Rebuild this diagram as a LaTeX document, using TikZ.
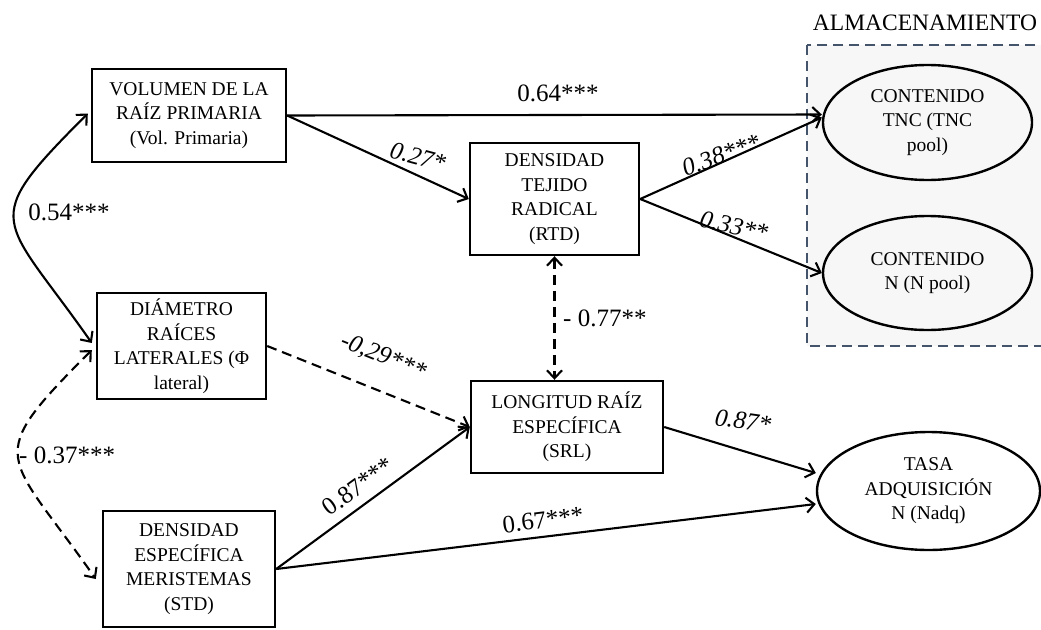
\documentclass[tikz,border=0pt]{standalone}
\usepackage{fontspec}
\setmainfont{Liberation Serif}
\usetikzlibrary{arrows.meta,shapes.geometric}
\definecolor{boxblue}{RGB}{68,84,106}
\definecolor{boxfill}{RGB}{247,247,247}
\begin{document}
\begin{tikzpicture}[x=1pt,y=-1pt,
  box/.style={draw, line width=2.4pt, align=center, inner sep=0pt, font=\fontsize{19.5}{24.5}\selectfont},
  oval/.style={draw, ellipse, line width=2.4pt, align=center, inner sep=0pt, font=\fontsize{19.5}{24.5}\selectfont},
  arr/.style={line width=2.1pt, -{Straight Barb[length=8pt,width=15pt,line width=2.1pt]}},
  darr/.style={line width=2.1pt, {Straight Barb[length=8pt,width=15pt,line width=2.1pt]}-{Straight Barb[length=8pt,width=15pt,line width=2.1pt]}},
  dsh/.style={dash pattern=on 10pt off 6pt},
  lbl/.style={inner sep=0pt, font=\fontsize{25}{30}\selectfont},
  ilbl/.style={inner sep=0pt, font=\fontsize{25}{30}\selectfont\itshape}
]
\useasboundingbox (0,0) rectangle (1041,629);
\fill[white] (0,0) rectangle (1041,629);

% storage region
\draw[boxblue, fill=boxfill, line width=2pt, dash pattern=on 10pt off 6pt] (807,45) rectangle (1052,346);
\node[inner sep=0pt, font=\fontsize{23.5}{28}\selectfont] (alm) at (925,22.5) {ALMACENAMIENTO};

% boxes
\node[box, minimum width=194pt, minimum height=93pt] (VOL) at (189,115.5)
  {VOLUMEN DE LA\\RAÍZ PRIMARIA\\(Vol. Primaria)};
\node[box, minimum width=169pt, minimum height=106pt] (DIAM) at (181.5,346)
  {DIÁMETRO\\RAÍCES\\LATERALES (Φ\\lateral)};
\node[box, minimum width=172pt, minimum height=116pt] (STD) at (189,569)
  {DENSIDAD\\ESPECÍFICA\\MERISTEMAS\\(STD)};
\node[box, minimum width=169pt, minimum height=112pt] (RTD) at (554.5,199)
  {DENSIDAD\\TEJIDO\\RADICAL\\(RTD)};
\node[box, minimum width=192pt, minimum height=92pt] (SRL) at (567,427)
  {LONGITUD RAÍZ\\ESPECÍFICA\\(SRL)};

% ellipses
\node[oval, minimum width=209pt, minimum height=115pt] (TNC) at (927.5,122.5)
  {CONTENIDO\\TNC (TNC\\pool)};
\node[oval, minimum width=209pt, minimum height=114pt] (NP) at (927.5,273)
  {CONTENIDO\\N (N pool)};
\node[oval, minimum width=223pt, minimum height=118pt] (TASA) at (928.5,491)
  {TASA\\ADQUISICIÓN\\N (Nadq)};

% connectors
\draw[arr] (VOL.east) -- ([yshift=8pt]TNC.west);
\draw[arr] (VOL.east) -- (RTD.west);
\draw[arr] (RTD.east) -- ([yshift=5pt]TNC.west);
\draw[arr] (RTD.east) -- (NP.west);
\draw[darr, dsh] (RTD.south) -- (RTD.south |- SRL.north);
\draw[arr, dsh] (DIAM.east) -- (SRL.west);
\draw[arr] (STD.east) -- (SRL.west);
\draw[arr] (STD.east) -- ([yshift=-13pt]TASA.west);
\draw[arr] (SRL.east) -- ([yshift=18pt]TASA.west);
\draw[darr] ([xshift=-3pt,yshift=2pt]VOL.west) to[out=225,in=125,looseness=1.75] ([xshift=-4pt,yshift=3pt]DIAM.west);
\draw[darr, dsh] ([xshift=-4pt,yshift=-4pt]DIAM.west) to[out=225,in=125,looseness=1.75] ([xshift=-6pt,yshift=-10pt]STD.west);

% labels
\node[lbl] (l064) at (558,93) {0.64***};
\node[ilbl, rotate=-15] (l027) at (418,157) {0.27*};
\node[ilbl, rotate=20] (l038) at (721,155) {0.38***};
\node[ilbl, rotate=-13] (l033) at (734,226) {0.33**};
\node[lbl] (l054) at (69,212) {0.54***};
\node[lbl, anchor=west] (l077) at (563,318) {- 0.77**};
\node[ilbl, rotate=-22] (l029) at (383,357) {-0,29***};
\node[lbl, rotate=36] (l087a) at (358,486) {0.87***};
\node[lbl, rotate=7] (l067) at (543,520) {0.67***};
\node[ilbl, rotate=-8] (l087b) at (743,421) {0.87*};
\node[lbl, anchor=west] (l037) at (19,455) {- 0.37***};
\end{tikzpicture}
\end{document}
